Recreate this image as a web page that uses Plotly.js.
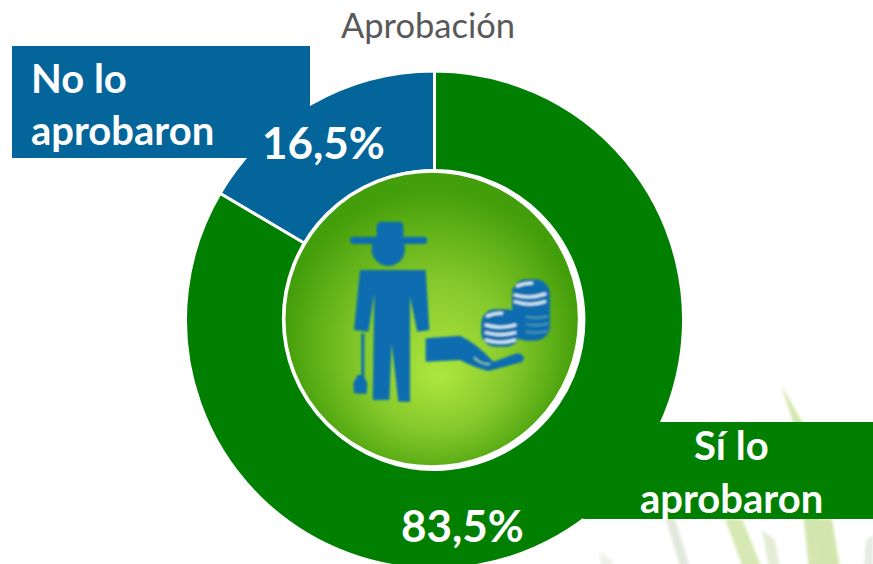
<!DOCTYPE html>
<html>
<head>
<meta charset="utf-8">
<script src="https://cdn.plot.ly/plotly-3.0.1.min.js"></script>
<style>
html,body{margin:0;padding:0;background:#fff;overflow:hidden;width:873px;height:564px}
#wrap{width:873px;height:564px;overflow:hidden}
</style>
</head>
<body>
<div id="wrap"><div id="chart"></div></div>
<script>
const chartTitle = "Aprobación";
const categories = ["Sí lo aprobaron", "No lo aprobaron"];
const values = [83.5, 16.5];
const colors = ["#007f00", "#036599"];
const boxColors = ["#007f00", "#036599"];

const W = 873, H = 600;
const px = x => x / W;
const py = y => 1 - y / H;
const fmt = v => v.toFixed(1).replace(".", ",") + "%";

const centerIcon = `<svg xmlns="http://www.w3.org/2000/svg" width="1020" height="1020" viewBox="-60 -60 1020 1020">
<defs>
<radialGradient id="g" gradientUnits="userSpaceOnUse" cx="455" cy="470" r="445" fx="480" fy="590">
<stop offset="0" stop-color="#aee63e"/><stop offset="0.5" stop-color="#86c92c"/><stop offset="0.82" stop-color="#5cae16"/><stop offset="1" stop-color="#429e0a"/>
</radialGradient>
<filter id="s"><feGaussianBlur stdDeviation="2.5"/></filter>
</defs>
<circle cx="455" cy="417" r="444" fill="url(#g)" stroke="#fff" stroke-width="11"/>
<g filter="url(#s)">
<g fill="#0a6db0">
<rect x="290" y="125" width="80" height="60" rx="14"/>
<rect x="210" y="170" width="232" height="22" rx="11"/>
<circle cx="325" cy="208" r="50"/>
<path d="M240 270 L437 270 L448 450 L412 455 L390 350 L390 665 L355 665 L335 490 L328 660 L278 660 L283 340 L265 455 L222 450 Z"/>
<rect x="244" y="460" width="9" height="130"/>
<path d="M233 585 L250 585 L262 610 L260 642 L222 640 L220 610 Z"/>
<path d="M437 475 L540 467 Q590 490 640 545 L712 520 Q742 525 726 546 L625 573 Q580 562 540 540 L437 545 Z"/>
<rect x="696" y="298" width="114" height="184" rx="44"/>
<rect x="604" y="388" width="116" height="112" rx="42"/>
</g>
<g fill="none" stroke="#d4ecf5" stroke-width="9" stroke-linecap="round">
<path d="M712 318 Q735 308 755 310"/>
<path d="M705 345 Q750 358 795 342"/>
<path d="M705 365 Q750 380 795 365"/>
<path d="M622 408 Q645 398 665 400"/>
<path d="M618 435 Q660 448 705 435"/>
<path d="M618 458 Q660 470 705 458"/>
<path d="M618 480 Q660 494 705 480"/>
</g>
<g fill="none" stroke="#4f9fb0" stroke-width="5">
<path d="M738 410 Q775 418 805 408"/><path d="M738 432 Q775 440 805 430"/><path d="M738 455 Q775 462 805 452"/>
</g>
<path d="M582 532 Q605 555 630 552" fill="none" stroke="#8fd0a0" stroke-width="5"/>
</g>
</svg>`;

const grass = `<svg xmlns="http://www.w3.org/2000/svg" width="873" height="600" viewBox="0 0 873 600">
<defs><filter id="b"><feGaussianBlur stdDeviation="1.6"/></filter></defs>
<g filter="url(#b)">
<path d="M781 385 L804 425 L832 600 L812 600 L794 425 Z" fill="#d4e6b0"/>
<path d="M660 500 L676 522 L700 600 L690 600 Z" fill="#e3e8dc"/>
<path d="M725 519 L742 519 L775 600 L755 600 Z" fill="#d6e8b4"/>
<path d="M762 530 L775 540 L785 600 L775 600 Z" fill="#e4ecd6"/>
<path d="M815 519 L832 519 L845 600 L830 600 Z" fill="#d2e5ac"/>
<path d="M866 540 L873 535 L873 600 L862 600 Z" fill="#e6ece0"/>
<path d="M600 552 L612 560 L618 600 L604 600 Z" fill="#eef2e8"/>
</g>
</svg>`;
const uri = s => "data:image/svg+xml;charset=utf-8," + encodeURIComponent(s);

const ann = (text, x, y, anchor, size) => ({
  text: "<b>" + text + "</b>", x: px(x), y: py(y), xref: "paper", yref: "paper",
  xanchor: anchor, yanchor: "middle", showarrow: false,
  font: {family: "Lato, sans-serif", size: size || 40, color: "#ffffff"}
});

const trace = {
  type: "pie",
  labels: categories,
  values: values,
  hole: 0.6,
  sort: false,
  direction: "clockwise",
  rotation: 0,
  textinfo: "none",
  hoverinfo: "label+percent",
  marker: {colors: colors, line: {color: "#ffffff", width: 3}},
  domain: {x: [px(185.5), px(683.5)], y: [py(569), py(71)]},
  showlegend: false
};

const layout = {
  width: W, height: H,
  margin: {l: 0, r: 0, t: 0, b: 0},
  paper_bgcolor: "#ffffff",
  showlegend: false,
  title: {
    text: chartTitle, x: px(428), xanchor: "center", y: py(26), yanchor: "middle",
    font: {family: "Lato, sans-serif", size: 34.5, color: "#595959"}
  },
  shapes: [
    {type: "rect", xref: "paper", yref: "paper", x0: px(12), x1: px(310), y0: py(158), y1: py(46), fillcolor: boxColors[1], line: {width: 0}, layer: "above"},
    {type: "rect", xref: "paper", yref: "paper", x0: px(583), x1: px(873), y0: py(519), y1: py(422), fillcolor: boxColors[0], line: {width: 0}, layer: "above"}
  ],
  images: [
    {source: uri(grass), xref: "paper", yref: "paper", x: 0, y: 1, sizex: 1, sizey: 1, xanchor: "left", yanchor: "top", sizing: "stretch", layer: "below"},
    {source: uri(centerIcon), xref: "paper", yref: "paper", x: px(260), y: py(160), sizex: 340 / W, sizey: 340 / H, xanchor: "left", yanchor: "top", sizing: "stretch", layer: "above"}
  ],
  annotations: [
    ann("No lo", 29, 78, "left"),
    ann("aprobaron", 29, 130, "left"),
    ann("Sí lo", 731, 445, "center"),
    ann("aprobaron", 731, 498, "center"),
    ann(fmt(values[1]), 323, 142, "center", 44),
    ann(fmt(values[0]), 462, 525, "center", 44)
  ]
};

Plotly.newPlot("chart", [trace], layout, {displayModeBar: false, staticPlot: true});
</script>
</body>
</html>
